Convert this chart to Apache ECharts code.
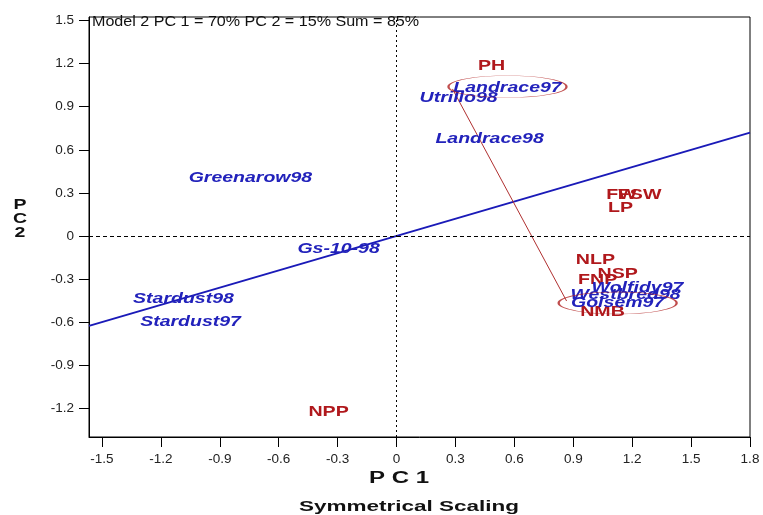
<!DOCTYPE html>
<html><head><meta charset="utf-8">
<script src="https://cdn.jsdelivr.net/npm/echarts@6/dist/echarts.min.js"></script>
<style>html,body{margin:0;padding:0;background:#fff}#c{width:763px;height:515px}</style>
</head><body><div id="c"></div>
<script>
// ---- data ----
var genotypeNames = ['Landrace97','Utrillo98','Landrace98','Greenarow98','Gs-10-98','Stardust98','Stardust97','Wolfidy97','Westbred98','Golsem97'];
var genotypeX = [0.565, 0.316, 0.474, -0.744, -0.295, -1.085, -1.049, 1.227, 1.166, 1.126];
var genotypeY = [1.031, 0.962, 0.676, 0.404, -0.091, -0.439, -0.599, -0.362, -0.411, -0.467];
var traitNames = ['PH','FW','FSW','LP','NLP','FNP','NSP','NMB','NPP'];
var traitX = [0.484, 1.146, 1.238, 1.141, 1.013, 1.024, 1.126, 1.049, -0.346];
var traitY = [1.185, 0.286, 0.286, 0.195, -0.167, -0.307, -0.265, -0.530, -1.227];
var axisLineX = [-1.566, 1.8];
var axisLineY = [-0.626, 0.72];
var compareX = [0.285, 0.866];
var compareY = [1.024, -0.453];
var circledX = [0.565, 1.126];
var circledY = [1.040, -0.467];
var xTicks = [-1.5,-1.2,-0.9,-0.6,-0.3,0,0.3,0.6,0.9,1.2,1.5,1.8];
var yTicks = [-1.2,-0.9,-0.6,-0.3,0,0.3,0.6,0.9,1.2,1.5];
var subtitle = 'Model 2 PC 1 = 70% PC 2 = 15% Sum = 85%';

function zip(a,b){return a.map(function(v,i){return [v,b[i]];});}

var chart = echarts.init(document.getElementById('c'));
function labelSeries(names, xs, ys, font, color, sx, z){
  return {
    type:'custom', z:z, silent:true,
    data: zip(xs, ys),
    renderItem:function(params, api){
      var p = api.coord([api.value(0), api.value(1)]);
      return {type:'text', x:p[0], y:p[1], scaleX:sx,
        style:{text:names[params.dataIndex], font:font, fill:color, align:'center', verticalAlign:'middle'}};
    }
  };
}
var fmt = function(v){ return (Math.round(v*10)/10).toString(); };
chart.setOption({
  animation:false,
  backgroundColor:'#fff',
  grid:{left:89, right:13, top:17, bottom:78, show:true, borderColor:'#000', borderWidth:1},
  xAxis:{type:'value', min:-1.566, max:1.8,
    axisLine:{show:true, onZero:false, lineStyle:{color:'#000'}},
    axisTick:{show:true, length:10, inside:false, customValues:xTicks, lineStyle:{color:'#000'}},
    axisLabel:{customValues:xTicks, formatter:fmt, margin:15, fontSize:13.5, color:'#222', fontFamily:'Liberation Sans'},
    splitLine:{show:false}},
  yAxis:{type:'value', min:-1.40, max:1.525,
    axisLine:{show:true, onZero:false, lineStyle:{color:'#000'}},
    axisTick:{show:true, length:10, customValues:yTicks, lineStyle:{color:'#000'}},
    axisLabel:{customValues:yTicks, formatter:fmt, margin:15, fontSize:13.5, color:'#222', fontFamily:'Liberation Sans'},
    splitLine:{show:false}},
  graphic:[
    {type:'text', x:92, y:22, scaleX:1.15, style:{text:subtitle, font:'14px "Liberation Sans"', fill:'#111', textAlign:'left', textVerticalAlign:'middle'}},
    {type:'text', x:20, y:219, scaleX:1.3, style:{text:'P\nC\n2', font:'bold 15px "Liberation Sans"', fill:'#111', lineHeight:14, textAlign:'center', textVerticalAlign:'middle'}},
    {type:'text', x:399, y:479, scaleX:1.5, style:{text:'P C 1', font:'bold 16px "Liberation Sans"', fill:'#111', textAlign:'center', textVerticalAlign:'middle'}},
    {type:'text', x:409, y:507, scaleX:1.5, style:{text:'Symmetrical Scaling', font:'bold 15px "Liberation Sans"', fill:'#111', textAlign:'center', textVerticalAlign:'middle'}}
  ],
  series:[
    {type:'line', data:zip(axisLineX, axisLineY), symbol:'none', lineStyle:{color:'#1a1ab8', width:2}, z:2,
     markLine:{silent:true, symbol:'none', label:{show:false}, data:[
       {yAxis:0, lineStyle:{type:[4,3], color:'#000', width:1}},
       {xAxis:0, lineStyle:{type:[2,3], color:'#000', width:1}}]}},
    {type:'line', data:zip(compareX, compareY), symbol:'none', lineStyle:{color:'#b03030', width:1}, z:2},
    labelSeries(traitNames, traitX, traitY, 'bold 14px "Liberation Sans"', '#b0181c', 1.4, 3),
    labelSeries(genotypeNames, genotypeX, genotypeY, 'italic bold 15px "Liberation Sans"', '#2222bb', 1.3, 4),
    {type:'scatter', data:zip(circledX, circledY), symbol:'circle', symbolSize:[118,22], z:5,
     itemStyle:{color:'rgba(0,0,0,0)', borderColor:'#b02020', borderWidth:1}}
  ]
});
</script></body></html>
